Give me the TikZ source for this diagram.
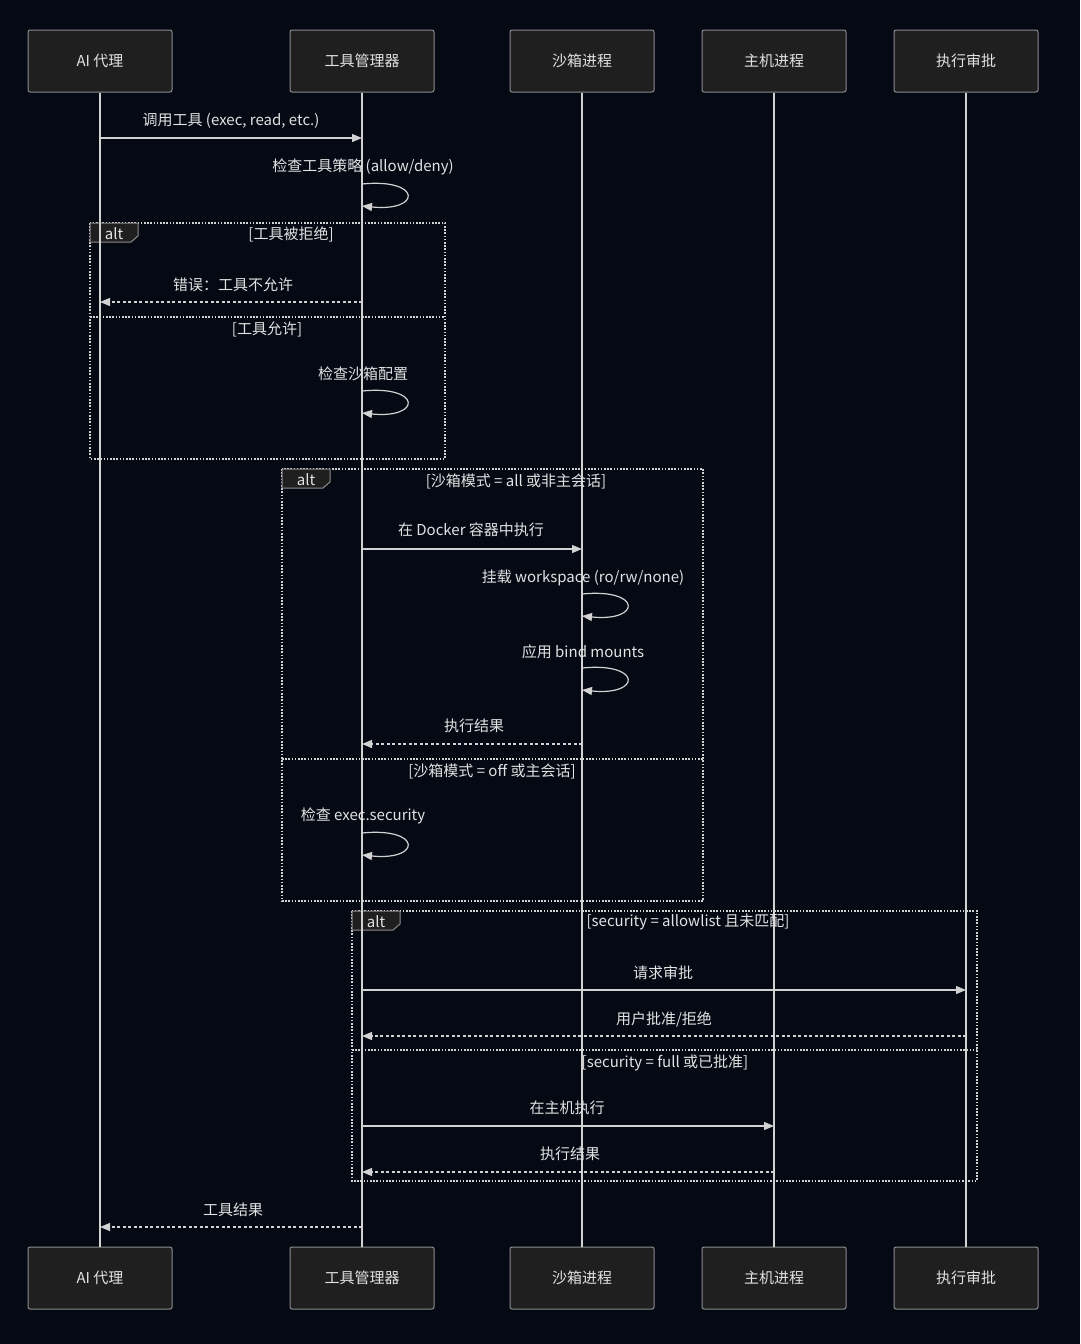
\documentclass[tikz,border=0pt]{standalone}
\usepackage{fontspec}
\setmainfont{Noto Sans CJK SC}
\usetikzlibrary{arrows.meta,positioning,calc}
\definecolor{Night}{HTML}{040914}
\definecolor{BoxFill}{HTML}{1F1F1F}
\definecolor{BoxLine}{HTML}{8C8C8C}
\definecolor{Ink}{HTML}{E2E2E2}
\definecolor{Wire}{HTML}{D2D2D2}
\begin{document}
\begin{tikzpicture}[x=1pt,y=-1pt,
actor/.style={draw=BoxLine,fill=BoxFill,line width=1pt,rounded corners=2pt,minimum width=144pt,minimum height=62pt,text=Ink,font=\fontsize{15}{18}\selectfont},
lbl/.style={text=Ink,inner sep=0pt,font=\fontsize{15}{18}\selectfont},
msg/.style={-{Triangle[length=10pt,width=8pt]},draw=Wire,line width=1.2pt},
ret/.style={msg,dash pattern=on 3pt off 2.5pt},
life/.style={draw=Wire,line width=1.5pt},
frame/.style={draw=Wire,line width=1.4pt,dash pattern=on 1.6pt off 1.6pt},
tab/.style={draw=BoxLine,fill=BoxFill,line width=1pt}]
\fill[Night] (0,0) rectangle (1080,1344);
\useasboundingbox (0,0) rectangle (1080,1344);
% actors
\node[actor] (ai) at (100,61) {AI 代理};
\node[actor] (mgr) at (362,61) {工具管理器};
\node[actor] (box) at (582,61) {沙箱进程};
\node[actor] (host) at (774,61) {主机进程};
\node[actor] (ok) at (966,61) {执行审批};
\node[actor] (aib) at (100,1278) {AI 代理};
\node[actor] (mgrb) at (362,1278) {工具管理器};
\node[actor] (boxb) at (582,1278) {沙箱进程};
\node[actor] (hostb) at (774,1278) {主机进程};
\node[actor] (okb) at (966,1278) {执行审批};
% alt frames
\draw[frame] (90,223) rectangle (445,459); \draw[frame] (90,317) -- (445,317);
\draw[tab] (90,223) -- (138,223) -- (138,236) -- (131,242) -- (90,242) -- cycle;
\draw[frame] (282,469) rectangle (703,901); \draw[frame] (282,759) -- (703,759);
\draw[tab] (282,469) -- (330,469) -- (330,482) -- (323,488) -- (282,488) -- cycle;
\draw[frame] (352,911) rectangle (977,1181); \draw[frame] (352,1050) -- (977,1050);
\draw[tab] (352,911) -- (400,911) -- (400,924) -- (393,930) -- (352,930) -- cycle;
% lifelines
\draw[life] (ai.south) -- (aib.north);
\draw[life] (mgr.south) -- (mgrb.north);
\draw[life] (box.south) -- (boxb.north);
\draw[life] (host.south) -- (hostb.north);
\draw[life] (ok.south) -- (okb.north);
\node[lbl] (t1) at (114,234) {alt};
\node[lbl] (c1) at (291,234) {[工具被拒绝]};
\node[lbl] (c2) at (267,329) {[工具允许]};
\node[lbl] (t2) at (306,480) {alt};
\node[lbl] (c3) at (516,481) {[沙箱模式 = all 或非主会话]};
\node[lbl] (c4) at (492,771) {[沙箱模式 = off 或主会话]};
\node[lbl] (t3) at (376,922) {alt};
\node[lbl] (c5) at (688,922) {[security = allowlist 且未匹配]};
\node[lbl] (c6) at (665,1063) {[security = full 或已批准]};
% messages
\node[lbl] (m1) at (231,121) {调用工具 (exec, read, etc.)};
\draw[msg] (ai |- 0,138) -- (mgr |- 0,138);
\node[lbl] (m2) at (363,167) {检查工具策略 (allow/deny)};
\draw[msg] (mgr |- 0,184) .. controls +(60,-6) and +(60,6) .. (mgr |- 0,206);
\node[lbl] (m3) at (233,285) {错误：工具不允许};
\draw[ret] (mgr |- 0,302) -- (ai |- 0,302);
\node[lbl] (m4) at (363,374) {检查沙箱配置};
\draw[msg] (mgr |- 0,391) .. controls +(60,-6) and +(60,6) .. (mgr |- 0,413);
\node[lbl] (m5) at (471,530) {在 Docker 容器中执行};
\draw[msg] (mgr |- 0,549) -- (box |- 0,549);
\node[lbl] (m6) at (583,578) {挂载 workspace (ro/rw/none)};
\draw[msg] (box |- 0,594) .. controls +(60,-6) and +(60,6) .. (box |- 0,616);
\node[lbl] (m7) at (583,652) {应用 bind mounts};
\draw[msg] (box |- 0,668) .. controls +(60,-6) and +(60,6) .. (box |- 0,690);
\node[lbl] (m8) at (474,726) {执行结果};
\draw[ret] (box |- 0,744) -- (mgr |- 0,744);
\node[lbl] (m9) at (363,816) {检查 exec.security};
\draw[msg] (mgr |- 0,833) .. controls +(60,-6) and +(60,6) .. (mgr |- 0,855);
\node[lbl] (m10) at (663,973) {请求审批};
\draw[msg] (mgr |- 0,990) -- (ok |- 0,990);
\node[lbl] (m11) at (664,1019) {用户批准/拒绝};
\draw[ret] (ok |- 0,1036) -- (mgr |- 0,1036);
\node[lbl] (m12) at (567,1108) {在主机执行};
\draw[msg] (mgr |- 0,1126) -- (host |- 0,1126);
\node[lbl] (m13) at (570,1154) {执行结果};
\draw[ret] (host |- 0,1172) -- (mgr |- 0,1172);
\node[lbl] (m14) at (233,1210) {工具结果};
\draw[ret] (mgr |- 0,1227) -- (ai |- 0,1227);
\end{tikzpicture}
\end{document}
